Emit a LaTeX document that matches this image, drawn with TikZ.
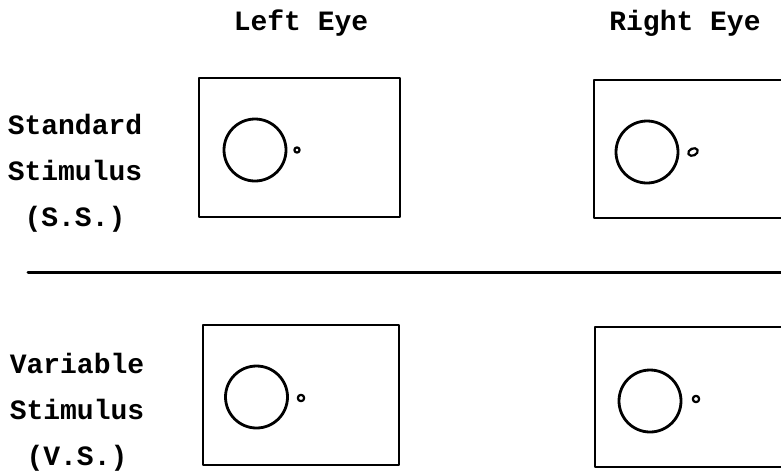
\documentclass[tikz,border=0pt]{standalone}
\usepackage{fontspec}
\setmonofont{Liberation Mono}
\begin{document}
\begin{tikzpicture}[line join=round, line cap=round, x=1pt, y=-1pt,
	lbl/.style={font=\ttfamily\bfseries\fontsize{28}{46}\selectfont, align=center, inner sep=0pt},
	panel/.style={line width=2.6pt},
	ring/.style={line width=2.8pt},
	spot/.style={line width=2.2pt}]
	\clip (0,0) rectangle (781,475);
	\fill[white] (0,0) rectangle (781,475);
	% column and row titles
	\node[lbl, anchor=base] (lefteye) at (301,30) {Left Eye};
	\node[lbl, anchor=base] (righteye) at (685,30) {Right Eye};
	\node[lbl] (stdstim) at (75,173) {Standard\\Stimulus\\(S.S.)};
	\node[lbl] (varstim) at (77,412) {Variable\\Stimulus\\(V.S.)};
	% standard stimulus
	\draw[panel] (199,78) rectangle (400,217);
	\draw[ring] (255,150) circle (31);
	\draw[spot] (297,150) circle (2.6);
	\draw[panel] (594,80) rectangle (800,218);
	\draw[ring] (647,152) circle (31);
	\draw[spot] (693,152) ellipse [x radius=5, y radius=3.5, rotate=25];
	% divider
	\draw[line width=3pt] (28,272) -- (781,272);
	% variable stimulus
	\draw[panel] (203,325) rectangle (399,465);
	\draw[ring] (256.5,397) circle (31);
	\draw[spot] (301,398) circle (3.2);
	\draw[panel] (595,327) rectangle (800,467);
	\draw[ring] (650,401) circle (31);
	\draw[spot] (696,399) circle (3.2);
\end{tikzpicture}
\end{document}
